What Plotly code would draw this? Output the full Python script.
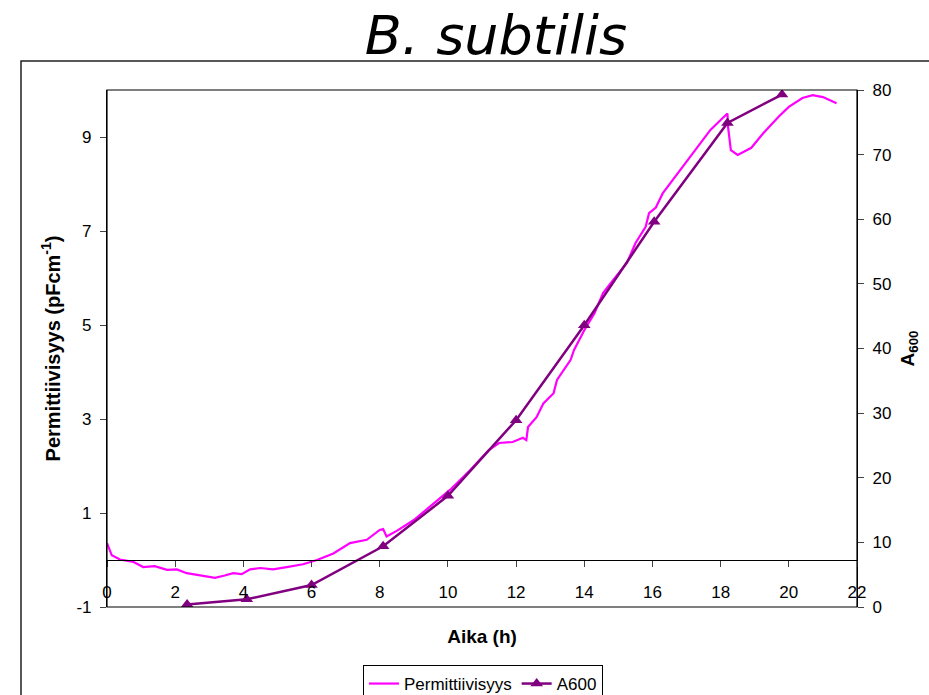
import plotly.graph_objects as go

# Permittivity (pF/cm) vs time (h)
perm_time = [0, 0.14, 0.38, 0.77, 1.06, 1.4, 1.76, 2.05, 2.34, 2.73, 3.17, 3.45, 3.7, 3.95,
             4.2, 4.5, 4.87, 5.27, 5.75, 6.16, 6.64, 7.13, 7.62, 8.0, 8.1, 8.2, 8.5, 9.0,
             9.47, 10.06, 10.65, 11.2, 11.5, 11.9, 12.2, 12.3, 12.35, 12.6, 12.8, 13.1,
             13.2, 13.6, 13.7, 14.0, 14.3, 14.55, 14.85, 15.25, 15.5, 15.8, 15.9, 16.1,
             16.3, 16.6, 17.1, 17.4, 17.7, 18.0, 18.2, 18.22, 18.3, 18.5, 18.9, 19.25,
             19.7, 20.0, 20.4, 20.7, 21.0, 21.4]
perm_vals = [0.36, 0.1, 0.01, -0.04, -0.15, -0.13, -0.21, -0.2, -0.28, -0.32, -0.38, -0.33,
             -0.28, -0.3, -0.2, -0.17, -0.2, -0.15, -0.09, 0.0, 0.14, 0.36, 0.43, 0.64,
             0.66, 0.5, 0.62, 0.85, 1.13, 1.49, 1.91, 2.34, 2.49, 2.51, 2.6, 2.55, 2.83,
             3.04, 3.33, 3.55, 3.83, 4.26, 4.47, 4.89, 5.25, 5.68, 5.96, 6.32, 6.74, 7.09,
             7.38, 7.5, 7.8, 8.09, 8.57, 8.87, 9.15, 9.36, 9.5, 9.2, 8.72, 8.62, 8.77,
             9.08, 9.43, 9.64, 9.83, 9.89, 9.85, 9.72]

# A600 vs time (h)
a600_time = [2.35, 4.1, 6.0, 8.1, 10.0, 12.0, 14.0, 16.05, 18.2, 19.8]
a600_vals = [0.4, 1.2, 3.4, 9.4, 17.2, 28.9, 43.6, 59.6, 74.9, 79.3]

x_ticks = list(range(0, 23, 2))
y_ticks = [-1, 1, 3, 5, 7, 9]
y_tick_text = ["-1", "1", "3", "5", "7", "9"]
y2_ticks = list(range(0, 81, 10))

FONT = "Liberation Sans, Arial, sans-serif"

fig = go.Figure()
fig.add_trace(go.Scatter(
    x=perm_time, y=perm_vals, name="Permittiivisyys", mode="lines",
    line=dict(color="#FF00FF", width=2.2), yaxis="y"))
fig.add_trace(go.Scatter(
    x=a600_time, y=a600_vals, name="A600", mode="lines+markers",
    line=dict(color="#800080", width=2.5),
    marker=dict(symbol="triangle-up", size=11, color="#800080"), yaxis="y2"))

fig.update_layout(
    width=929, height=695,
    margin=dict(l=107, r=72, t=90, b=88, autoexpand=False),
    paper_bgcolor="white", plot_bgcolor="white",
    font=dict(family=FONT, size=17, color="#000"),
    title=dict(text="B. subtilis", x=(496 - 107) / 750, xref="paper", xanchor="center",
               y=0.95, yanchor="middle",
               font=dict(family="DejaVu Sans, sans-serif", size=54,
                         style="italic", color="#000")),
    xaxis=dict(range=[0, 22], tickvals=x_ticks, ticks="outside", ticklen=6,
               showline=True, linecolor="#000", linewidth=1.2, showgrid=False,
               zeroline=False, anchor="free", position=1 / 11,
               ticklabelstandoff=10, tickfont=dict(size=17),
               title=dict(text="<b>Aika (h)</b>", standoff=29, font=dict(size=19))),
    yaxis=dict(range=[-1, 10], tickvals=y_ticks, ticktext=y_tick_text, ticks="outside",
               ticklen=6, showline=True, linecolor="#000", linewidth=1.2, showgrid=False,
               zeroline=False, ticklabelstandoff=5, tickfont=dict(size=17),
               title=dict(text="<b>Permittiivisyys (pFcm<sup>-1</sup>)</b>", standoff=10,
                          font=dict(size=20))),
    yaxis2=dict(range=[0, 80], tickvals=y2_ticks, ticks="outside", ticklen=6,
                showline=True, linecolor="#000", linewidth=1.2, showgrid=False,
                zeroline=False, overlaying="y", side="right", ticklabelstandoff=5,
                tickfont=dict(size=17),
                title=dict(text="<b>A<sub>600</sub></b>", standoff=10, font=dict(size=19))),
    legend=dict(orientation="h", x=(483 - 107) / 750, xanchor="center", y=-58 / 517,
                yanchor="top", bordercolor="#000", borderwidth=1, bgcolor="white",
                font=dict(size=17), itemwidth=30, tracegroupgap=0),
    shapes=[
        dict(type="rect", xref="paper", yref="paper", x0=0, x1=1, y0=0, y1=1,
             line=dict(color="#000", width=1.2), layer="above"),
        dict(type="rect", xref="paper", yref="paper", x0=(21 - 107) / 750, x1=1.2,
             y0=-0.3, y1=(607 - 61) / 517, line=dict(color="#222", width=1.5)),
    ],
)

fig.write_html("out.html")
